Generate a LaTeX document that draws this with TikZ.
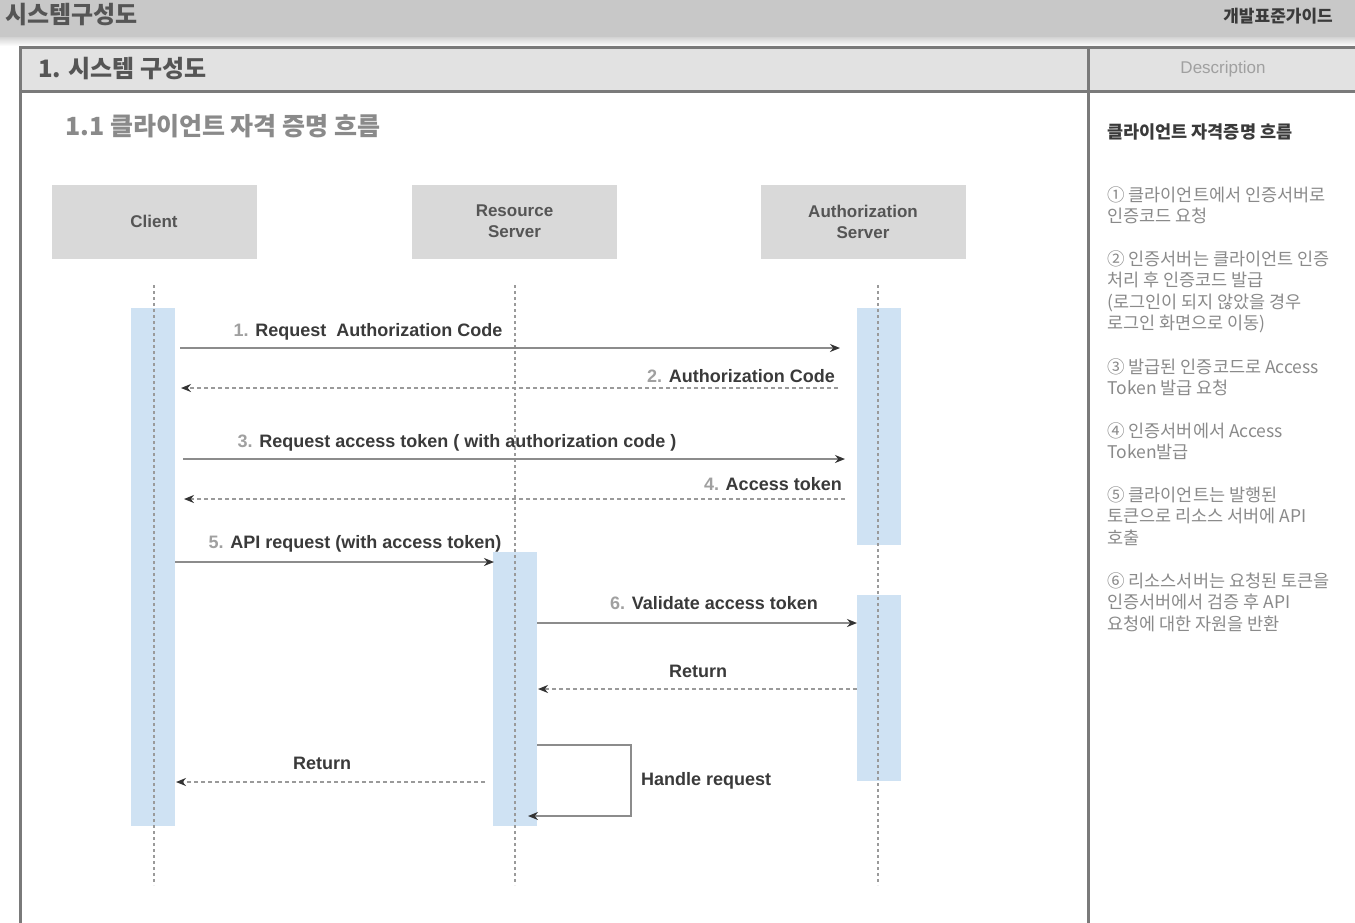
\documentclass[tikz,border=0pt]{standalone}
\usepackage{fontspec}
\setmainfont{Liberation Sans}
\newfontfamily\kr{Noto Sans CJK KR}
\usetikzlibrary{arrows.meta,positioning}
\definecolor{barg}{HTML}{C8C8C8}
\definecolor{hdrg}{HTML}{E2E2E2}
\definecolor{framec}{HTML}{7A7A7A}
\definecolor{boxg}{HTML}{D9D9D9}
\definecolor{actb}{HTML}{CFE2F3}
\definecolor{linec}{HTML}{8C8C8C}
\definecolor{dashc}{HTML}{9A9A9A}
\definecolor{tipc}{HTML}{333333}
\definecolor{txtd}{HTML}{3A3A3A}
\definecolor{txtm}{HTML}{555555}
\definecolor{txtl}{HTML}{8A8A8A}
\definecolor{numc}{HTML}{A0A0A0}
\tikzset{
  part/.style={fill=boxg, draw=none, minimum width=205, minimum height=74, align=center, text=txtm, font=\fontsize{17}{21}\selectfont\bfseries},
  act/.style={fill=actb, draw=none, minimum width=44, inner sep=0},
  life/.style={draw=dashc, line width=1.6pt, dash pattern=on 3pt off 3pt},
  msg/.style={draw=linec, line width=2.8pt, -{Stealth[length=10pt,width=8pt,color=tipc]}},
  ret/.style={draw=dashc, line width=1.8pt, dash pattern=on 4pt off 3pt, -{Stealth[length=10pt,width=8pt,color=tipc]}},
  lbl/.style={text=txtd, font=\fontsize{18}{21}\selectfont\bfseries, inner sep=0},
  desc/.style={anchor=north west, align=left, text=txtl, font=\kr\fontsize{17.5}{21.5}\selectfont, inner sep=0},
}
\newcommand{\nm}[1]{\textcolor{numc}{#1}}
\begin{document}
\begin{tikzpicture}[x=1pt,y=-1pt]
\useasboundingbox (0,0) rectangle (1355,922);
\fill[white] (0,0) rectangle (1355,922);
% top bar
\fill[barg] (0,0) rectangle (1355,37);
\shade[top color=barg!80, bottom color=white] (0,37) rectangle (1355,46);
\node[anchor=west, text=txtm, font=\kr\fontsize{24}{26}\selectfont\bfseries, inner sep=0] (title) at (5,15) {시스템구성도};
\node[anchor=east, text=txtd, font=\kr\fontsize{17}{19}\selectfont\bfseries, inner sep=0] (guide) at (1333,16) {개발표준가이드};
% frame
\fill[hdrg] (20,47) rectangle (1360,91);
\draw[framec, line width=3pt] (20,925) -- (20,47) -- (1360,47);
\draw[framec, line width=3pt] (20,91) -- (1360,91);
\draw[framec, line width=3pt] (1088,47) -- (1088,925);
\node[anchor=west, text=txtm, font=\kr\fontsize{24}{26}\selectfont\bfseries, inner sep=0] (sec) at (38,69) {1. 시스템 구성도};
\node[text=numc, font=\fontsize{17}{19}\selectfont, inner sep=0] (dhead) at (1223,69) {Description};
\node[anchor=west, text=txtl, font=\kr\fontsize{25}{27}\selectfont\bfseries, inner sep=0] (sub) at (65,126) {1.1 클라이언트 자격 증명 흐름};
% participants
\node[part] (client) at (154,221.5) {Client};
\node[part] (rs) at (514.5,221.5) {Resource\\Server};
\node[part] (as) at (863,221.5) {Authorization\\Server};
% lifelines
\coordinate (cT) at (154,285); \coordinate (cB) at (154,885);
\coordinate (rT) at (515,285); \coordinate (rB) at (515,885);
\coordinate (aT) at (878,285); \coordinate (aB) at (878,885);
% activation bars
\node[act, minimum height=518] (actC) at (152.5,567) {};
\node[act, minimum height=237] (actA1) at (878.5,426.5) {};
\node[act, minimum height=274] (actR) at (515,689) {};
\node[act, minimum height=186] (actA2) at (878.5,688) {};
\draw[life] (cT) -- (cB);
\draw[life] (rT) -- (rB);
\draw[life] (aT) -- (aB);
% messages
\coordinate (m1s) at (180,348); \coordinate (m1e) at (840,348);
\draw[msg] (m1s) -- (m1e);
\node[lbl] (l1) at (368,332) {\nm{1.} Request\ \ Authorization Code};
\coordinate (m2s) at (838,388); \coordinate (m2e) at (181,388);
\draw[ret] (m2s) -- (m2e);
\node[lbl, anchor=east] (l2) at (835,376) {\nm{2.} Authorization Code};
\coordinate (m3s) at (183,459); \coordinate (m3e) at (845,459);
\draw[msg] (m3s) -- (m3e);
\node[lbl] (l3) at (457,443) {\nm{3.} Request access token ( with authorization code )};
\coordinate (m4s) at (845,499); \coordinate (m4e) at (184,499);
\draw[ret] (m4s) -- (m4e);
\node[lbl, anchor=east] (l4) at (842,484) {\nm{4.} Access token};
\coordinate (m5s) at (175,562); \coordinate (m5e) at (494,562);
\draw[msg] (m5s) -- (m5e);
\node[lbl] (l5) at (355,544) {\nm{5.} API request (with access token)};
\coordinate (m6s) at (537,623); \coordinate (m6e) at (857,623);
\draw[msg] (m6s) -- (m6e);
\node[lbl] (l6) at (714,603) {\nm{6.} Validate access token};
\coordinate (m7s) at (857,689); \coordinate (m7e) at (538,689);
\draw[ret] (m7s) -- (m7e);
\node[lbl] (l7) at (698,671) {Return};
\coordinate (m8s) at (485,782); \coordinate (m8e) at (176,782);
\draw[ret] (m8s) -- (m8e);
\node[lbl] (l8) at (322,763) {Return};
% self call
\coordinate (s0) at (537,745); \coordinate (s1) at (631,745);
\coordinate (s2) at (631,816); \coordinate (s3) at (528,816);
\draw[draw=linec, line width=2.8pt, -{Stealth[length=10pt,width=8pt,color=tipc]}] (s0) -- (s1) -- (s2) -- (s3);
\node[lbl, anchor=west] (l9) at (641,781) {Handle request};
% description panel
\node[anchor=west, text=txtd, font=\kr\fontsize{17.5}{20}\selectfont\bfseries, inner sep=0] (dtitle) at (1107,132) {클라이언트 자격증명 흐름};
\node[desc] (d1) at (1107,186) {① 클라이언트에서 인증서버로\\인증코드 요청};
\node[desc] (d2) at (1107,250) {② 인증서버는 클라이언트 인증\\처리 후 인증코드 발급\\(로그인이 되지 않았을 경우\\로그인 화면으로 이동)};
\node[desc] (d3) at (1107,358) {③ 발급된 인증코드로 Access\\Token 발급 요청};
\node[desc] (d4) at (1107,422) {④ 인증서버에서 Access\\Token발급};
\node[desc] (d5) at (1107,486) {⑤ 클라이언트는 발행된\\토큰으로 리소스 서버에 API\\호출};
\node[desc] (d6) at (1107,572) {⑥ 리소스서버는 요청된 토큰을\\인증서버에서 검증 후 API\\요청에 대한 자원을 반환};
\end{tikzpicture}
\end{document}
